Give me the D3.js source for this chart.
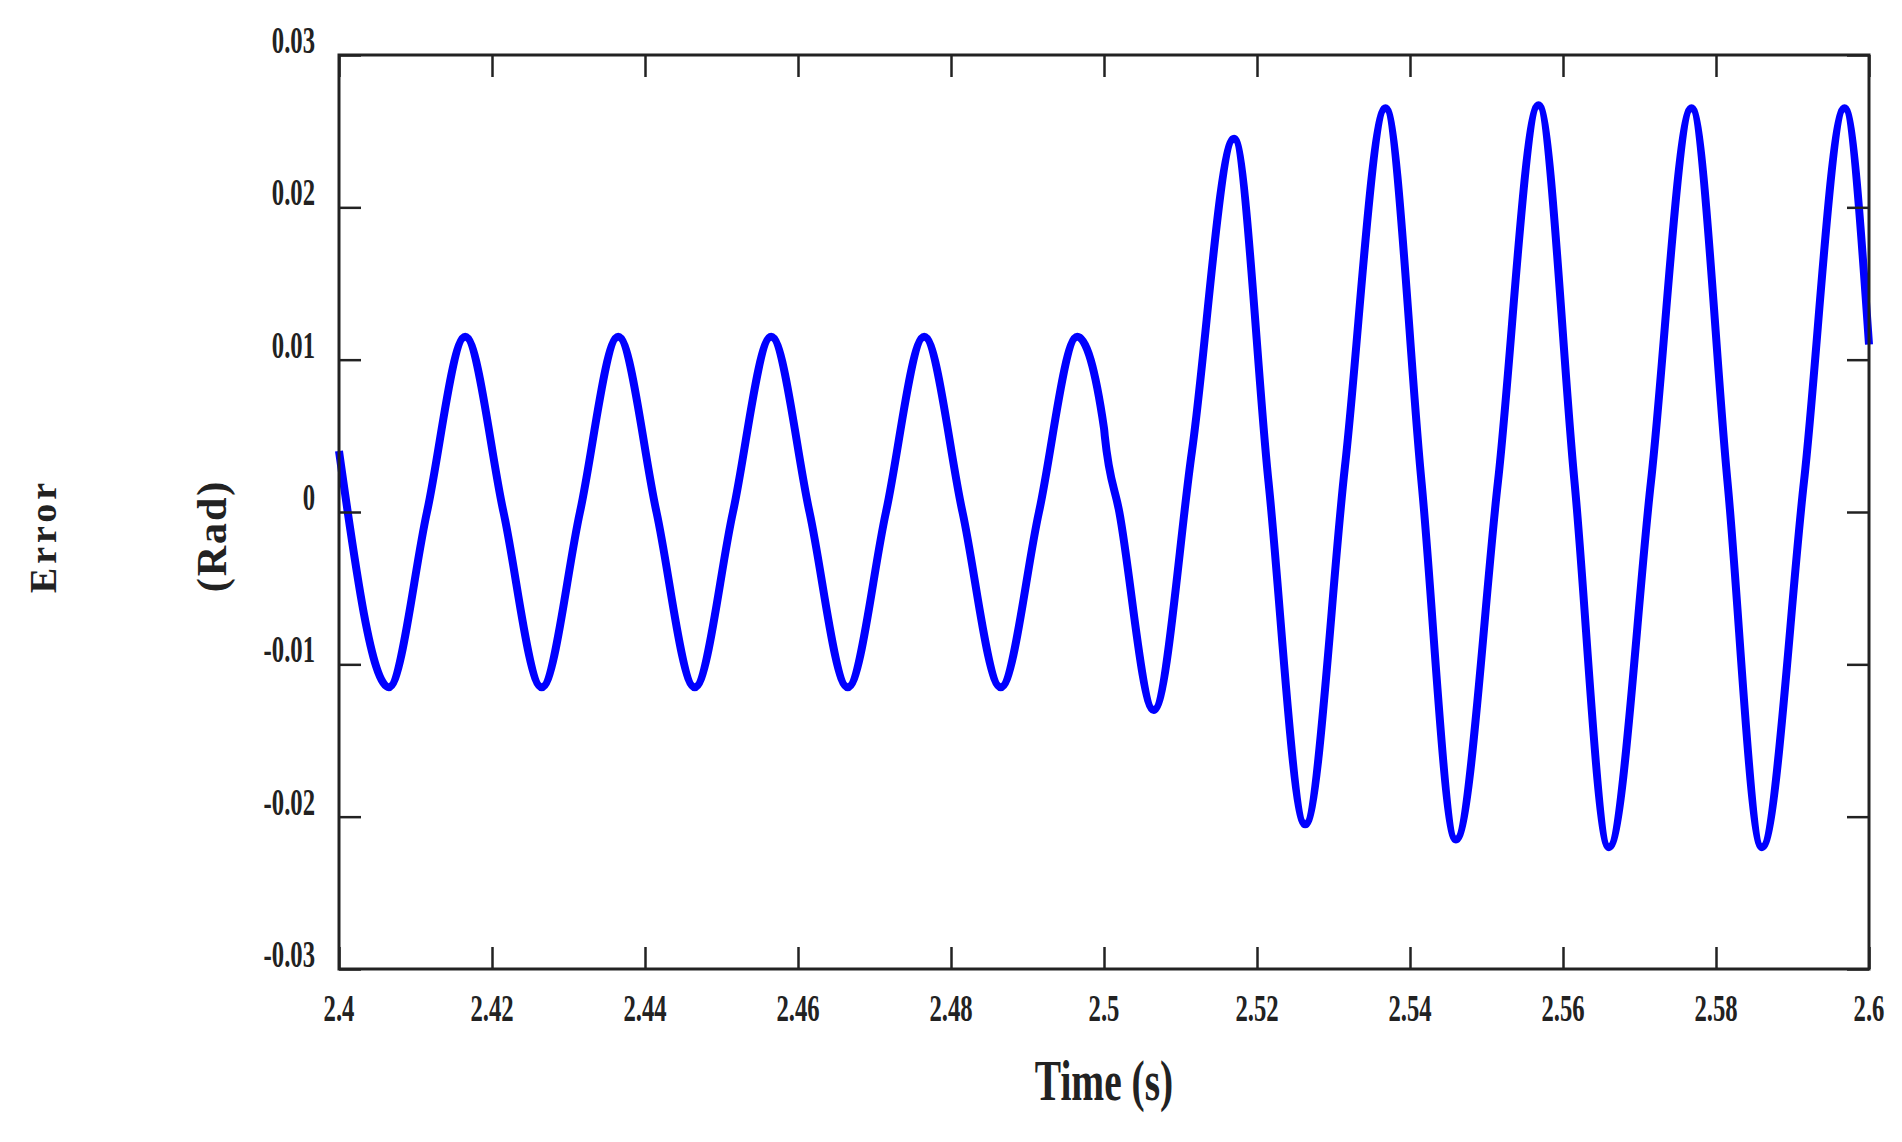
<!DOCTYPE html>
<html>
<head>
<meta charset="utf-8">
<script src="https://cdn.jsdelivr.net/npm/d3@7"></script>
<style>
  body { margin: 0; background: #fff; }
  text { font-family: "Liberation Serif", "DejaVu Serif", serif; font-weight: bold; fill: #222; }
</style>
</head>
<body>
<div id="chart"></div>
<script>
// values (peaks, troughs and crossings)
var times = [2.4000, 2.4065, 2.4115, 2.4165, 2.4215, 2.4265, 2.4315, 2.4365, 2.4415, 2.4465,
             2.4515, 2.4565, 2.4615, 2.4665, 2.4715, 2.4765, 2.4815, 2.4865, 2.4915, 2.4965,
             2.5000, 2.5001, 2.5020, 2.5065, 2.5115, 2.5170, 2.5215, 2.5263, 2.5315, 2.5368,
             2.5415, 2.5460, 2.5515, 2.5568, 2.5615, 2.5660, 2.5715, 2.5768, 2.5815, 2.5860,
             2.5915, 2.5968, 2.6000];
var errors = [0.0040, -0.0115, 0, 0.0115, 0, -0.0115, 0, 0.0115, 0, -0.0115,
              0, 0.0115, 0, -0.0115, 0, 0.0115, 0, -0.0115, 0, 0.0115,
              0.0055, 0.0050, 0, -0.0130, 0.0040, 0.0245, 0.0020, -0.0205, 0.0030, 0.0265,
              0.0020, -0.0215, 0.0020, 0.0267, 0.0020, -0.0220, 0.0020, 0.0265, 0.0020, -0.0220,
              0.0020, 0.0265, 0.0110];
var xTicks = [2.4, 2.42, 2.44, 2.46, 2.48, 2.5, 2.52, 2.54, 2.56, 2.58, 2.6];
var xTickLabels = ["2.4", "2.42", "2.44", "2.46", "2.48", "2.5", "2.52", "2.54", "2.56", "2.58", "2.6"];
var yTicks = [-0.03, -0.02, -0.01, 0, 0.01, 0.02, 0.03];
var yTickLabels = ["-0.03", "-0.02", "-0.01", "0", "0.01", "0.02", "0.03"];

var width = 1902, height = 1142;
var mLeft = 339, mRight = 1869, mTop = 55, mBottom = 969;
var tickLen = 22;

var svg = d3.select('#chart').append('svg')
    .attr('width', width)
    .attr('height', height);

var x = d3.scaleLinear().domain([2.4, 2.6]).range([mLeft, mRight]);
var y = d3.scaleLinear().domain([-0.03, 0.03]).range([mBottom, mTop]);

var data = times.map(function (t, i) { return [t, errors[i]]; });

var line = d3.line()
    .x(function (d) { return x(d[0]); })
    .y(function (d) { return y(d[1]); })
    .curve(d3.curveMonotoneX);

svg.append('path')
    .datum(data)
    .attr('fill', 'none')
    .attr('stroke', '#0000ff')
    .attr('stroke-width', 8)
    .attr('d', line);

function axisStyle(g) {
    g.select('.domain').remove();
    g.selectAll('.tick line').attr('stroke', '#222').attr('stroke-width', 2.5);
    g.selectAll('.tick text').remove();
}

svg.append('g').attr('transform', 'translate(0,' + mBottom + ')')
    .call(d3.axisBottom(x).tickValues(xTicks).tickSizeInner(-tickLen).tickSizeOuter(0)).call(axisStyle);
svg.append('g').attr('transform', 'translate(0,' + mTop + ')')
    .call(d3.axisTop(x).tickValues(xTicks).tickSizeInner(-tickLen).tickSizeOuter(0)).call(axisStyle);
svg.append('g').attr('transform', 'translate(' + mLeft + ',0)')
    .call(d3.axisLeft(y).tickValues(yTicks).tickSizeInner(-tickLen).tickSizeOuter(0)).call(axisStyle);
svg.append('g').attr('transform', 'translate(' + mRight + ',0)')
    .call(d3.axisRight(y).tickValues(yTicks).tickSizeInner(-tickLen).tickSizeOuter(0)).call(axisStyle);

svg.append('rect')
    .attr('x', mLeft).attr('y', mTop)
    .attr('width', mRight - mLeft).attr('height', mBottom - mTop)
    .attr('fill', 'none').attr('stroke', '#222').attr('stroke-width', 3);

// tick labels, condensed like the original
xTicks.forEach(function (t, i) {
    svg.append('text')
        .attr('transform', 'translate(' + x(t) + ',' + (mBottom + 52) + ') scale(0.65,1)')
        .attr('text-anchor', 'middle')
        .attr('font-size', 38)
        .text(xTickLabels[i]);
});
yTicks.forEach(function (t, i) {
    svg.append('text')
        .attr('transform', 'translate(' + (mLeft - 24) + ',' + (y(t) - 2) + ') scale(0.65,1)')
        .attr('text-anchor', 'end')
        .attr('font-size', 38)
        .text(yTickLabels[i]);
});

svg.append('text')
    .attr('transform', 'translate(' + ((mLeft + mRight) / 2) + ',1100) scale(0.68,1)')
    .attr('text-anchor', 'middle')
    .attr('font-size', 58)
    .text('Time (s)');

svg.append('text')
    .attr('transform', 'translate(56,536) rotate(-90)')
    .attr('text-anchor', 'middle')
    .attr('font-size', 38)
    .attr('letter-spacing', 4)
    .text('Error');

svg.append('text')
    .attr('transform', 'translate(226,536) rotate(-90)')
    .attr('text-anchor', 'middle')
    .attr('font-size', 42)
    .attr('letter-spacing', 2)
    .text('(Rad)');
</script>
</body>
</html>
